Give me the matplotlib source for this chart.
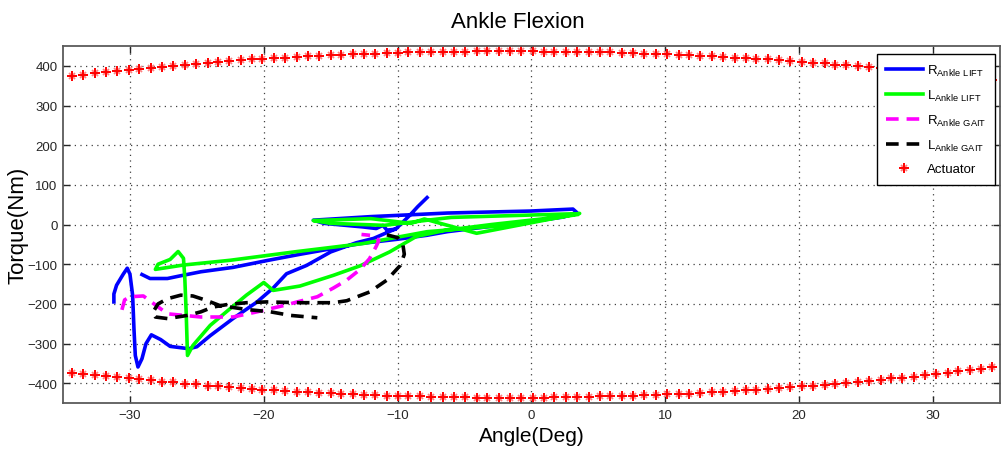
import numpy as np
import matplotlib
matplotlib.use("Agg")
import matplotlib.pyplot as plt
from matplotlib.legend_handler import HandlerTuple

# Actuator torque envelope (deg, Nm)
act_angle = [
    -34.3, -33.5, -32.6, -31.8, -31.0, -30.1, -29.3, -28.4, -27.6, -26.8,
    -25.9, -25.1, -24.2, -23.4, -22.6, -21.7, -20.9, -20.1, -19.2, -18.4,
    -17.5, -16.7, -15.9, -15.0, -14.2, -13.3, -12.5, -11.7, -10.8, -10.0,
    -9.2, -8.3, -7.5, -6.6, -5.8, -5.0, -4.1, -3.3, -2.4, -1.6,
    -0.8, 0.1, 0.9, 1.7, 2.6, 3.4, 4.3, 5.1, 5.9, 6.8,
    7.6, 8.4, 9.3, 10.1, 11.0, 11.8, 12.6, 13.5, 14.3, 15.2,
    16.0, 16.8, 17.7, 18.5, 19.3, 20.2, 21.0, 21.9, 22.7, 23.5,
    24.4, 25.2, 26.1, 26.9, 27.7, 28.6, 29.4, 30.2, 31.1, 31.9,
    32.8, 33.6, 34.4,
]
act_upper = [
    374, 378, 381, 384, 386, 390, 392, 395, 398, 400,
    403, 405, 407, 410, 412, 414, 416, 417, 419, 421,
    423, 424, 425, 427, 428, 429, 430, 431, 432, 433,
    434, 435, 435, 436, 436, 436, 437, 437, 437, 437,
    437, 437, 436, 436, 436, 435, 435, 434, 434, 433,
    432, 431, 430, 429, 428, 427, 425, 424, 422, 421,
    419, 418, 416, 414, 412, 410, 408, 406, 403, 401,
    399, 396, 394, 391, 389, 386, 383, 380, 377, 374,
    370, 367, 364,
]
act_lower = [
    -373, -376, -379, -382, -385, -388, -390, -393, -396, -398,
    -401, -403, -406, -408, -410, -412, -414, -416, -418, -419,
    -421, -422, -424, -425, -427, -428, -429, -430, -431, -432,
    -433, -433, -434, -435, -435, -435, -436, -436, -436, -436,
    -436, -436, -436, -435, -435, -435, -434, -433, -433, -432,
    -431, -430, -429, -428, -427, -426, -424, -423, -421, -420,
    -418, -416, -414, -412, -410, -408, -406, -404, -401, -399,
    -396, -394, -391, -388, -386, -383, -380, -377, -373, -370,
    -367, -363, -360,
]

# Right ankle, lift trial (two recorded passes, split by NaN)
r_lift_angle = [
    -7.8, -8.5, -9.1, -10.1, -11.8, -13.1, -15.0, -16.8, -18.3, -19.3,
    -20.5, -22.3, -24.0, -25.0, -25.6, -27.0, -27.7, -28.4, -28.8, -29.1,
    -29.4, -29.6, -29.7, -29.8, -30.0, -30.2, -30.5, -31.0, -31.2, -31.2,
    np.nan,
    -29.1, -28.5, -27.2, -26.2, -24.7, -22.3, -19.8, -17.3, -14.8, -12.8,
    -10.0, -7.8, -6.3, -3.9, -0.1, 2.4, 3.4, 3.1, -0.1, -3.9,
    -6.3, -8.8, -12.0, -16.3, -15.5, -12.6, -11.6, -11.1, -10.8, -10.2,
]
r_lift_torque = [
    68, 45, 23, -10, -35, -46, -69, -103, -124, -160,
    -195, -237, -280, -308, -313, -307, -290, -278, -300, -338,
    -359, -330, -263, -178, -125, -110, -125, -153, -175, -195,
    np.nan,
    -126, -136, -136, -129, -119, -108, -91, -75, -60, -48,
    -37, -27, -18, -8, 7, 19, 30, 39, 34, 31,
    29, 25, 20, 11, 3, -6, -10, -2, -14, -12,
]

# Left ankle, lift trial
l_lift_angle = [
    3.4, -2.0, -7.8, -12.6, -17.5, -22.5, -26.0, -28.1, -27.9, -27.0,
    -26.4, -26.0, -25.9, -25.8, -25.7, -25.3, -24.0, -22.8, -21.3, -20.0,
    -19.3, -17.3, -14.8, -12.8, -10.6, -8.6, -6.5, -3.0, 1.0, 3.6,
    -4.1, -8.0, -9.0, -12.0, -16.3, -15.0, -11.0, -6.0, 0.0, 3.0,
]
l_lift_torque = [
    25, -2, -18, -48, -68, -90, -102, -113, -100, -88,
    -68, -85, -136, -220, -330, -305, -254, -220, -178, -146,
    -166, -155, -128, -104, -69, -30, -15, 0, 15, 28,
    -22, 14, 3, 15, 10, 3, -2, 18, 24, 27,
]

# Right ankle, gait trial
r_gait_angle = [
    -30.6, -30.4, -30.0, -29.0, -28.2, -27.2, -24.7, -22.3, -20.5, -18.5,
    -17.5, -16.0, -14.8, -13.8, -12.8, -12.1, -11.6, -11.4, -11.8, -12.7,
]
r_gait_torque = [
    -215, -190, -182, -180, -200, -225, -233, -233, -220, -204,
    -195, -182, -160, -140, -113, -86, -55, -40, -28, -25,
]

# Left ankle, gait trial
l_gait_angle = [
    -10.8, -10.0, -9.6, -9.5, -9.8, -10.4, -10.8, -12.1, -13.8, -14.8,
    -17.3, -19.8, -21.3, -22.8, -23.8, -24.7, -25.7, -27.2, -28.1, -28.3,
    -27.9, -27.2, -26.2, -25.3, -24.3, -23.3, -21.3, -19.5, -18.0, -16.0,
]
l_gait_torque = [
    -26, -33, -52, -75, -103, -125, -140, -170, -192, -197,
    -197, -195, -197, -202, -208, -220, -229, -237, -233, -222,
    -200, -187, -178, -180, -191, -204, -214, -220, -229, -235,
]

x_ticks = [-30, -20, -10, 0, 10, 20, 30]
y_ticks = [-400, -300, -200, -100, 0, 100, 200, 300, 400]

plt.rcParams.update({
    "font.family": ["Liberation Sans", "DejaVu Sans"],
    "mathtext.default": "regular",
    "figure.dpi": 100,
})

fig = plt.figure(figsize=(10.02, 4.52))
ax = fig.add_axes([0.0629, 0.106, 0.935, 0.79])

lw = 2.6
dash = (0, (3.5, 2.2))
h_rl, = ax.plot(r_lift_angle, r_lift_torque, color="#0000ff", lw=lw)
h_ll, = ax.plot(l_lift_angle, l_lift_torque, color="#00ff00", lw=lw)
h_rg, = ax.plot(r_gait_angle, r_gait_torque, color="#ff00ff", lw=lw,
                linestyle=dash)
h_lg, = ax.plot(l_gait_angle, l_gait_torque, color="black", lw=lw,
                linestyle=dash)


def asterisk(angles, torques):
    # MATLAB-style '*': a plus with softer diagonal strokes
    x_part, = ax.plot(angles, torques, linestyle="none", marker="x",
                      markersize=4.5, markeredgewidth=1.3, color="#ff8080")
    p_part, = ax.plot(angles, torques, linestyle="none", marker="+",
                      markersize=6.5, markeredgewidth=1.4, color="#ff0000")
    return x_part, p_part


h_act = asterisk(act_angle, act_upper)
asterisk(act_angle, act_lower)

ax.set_xlim(-35, 35)
ax.set_ylim(-450, 450)
ax.set_xticks(x_ticks)
ax.set_yticks(y_ticks)
ax.tick_params(direction="in", length=5, width=1, top=True, right=True,
               labelsize=9.5, colors="#262626", pad=4)
ax.grid(True, linestyle=(0, (1, 3.5)), color="#404040", linewidth=0.9)
for sp in ax.spines.values():
    sp.set_color("#5a5a5a")
    sp.set_linewidth(1.3)

ax.set_title("Ankle Flexion", fontsize=16, pad=14, x=0.485)
ax.set_xlabel("Angle(Deg)", fontsize=15, labelpad=4)
ax.set_ylabel("Torque(Nm)", fontsize=16, labelpad=-1)

leg = ax.legend(
    [h_rl, h_ll, h_rg, h_lg, h_act],
    [r"R$_{Ankle\ LIFT}$", r"L$_{Ankle\ LIFT}$",
     r"R$_{Ankle\ GAIT}$", r"L$_{Ankle\ GAIT}$", "Actuator"],
    handler_map={tuple: HandlerTuple(ndivide=1)},
    loc="upper right", bbox_to_anchor=(0.995, 0.978),
    borderaxespad=0, fontsize=9.5, handlelength=2.8,
    labelspacing=0.75, fancybox=False, framealpha=1,
    edgecolor="black", borderpad=0.7, handletextpad=0.3)
leg.get_frame().set_linewidth(1.0)

fig.savefig("out.png", dpi=100)
